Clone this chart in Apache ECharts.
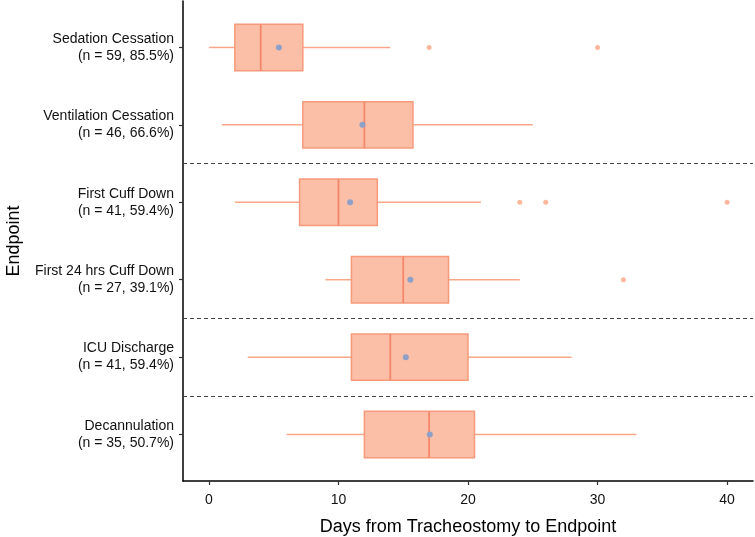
<!DOCTYPE html>
<html>
<head>
<meta charset="utf-8">
<script src="https://cdn.jsdelivr.net/npm/echarts@6/dist/echarts.min.js"></script>
<style>html,body{margin:0;padding:0;background:#fff}#c{width:755px;height:537px}</style>
</head>
<body>
<div id="c"></div>
<script>
// ---- data (top to bottom) ----
var categories = ['Sedation Cessation', 'Ventilation Cessation', 'First Cuff Down', 'First 24 hrs Cuff Down', 'ICU Discharge', 'Decannulation'];
var nLabels = ['(n = 59, 85.5%)', '(n = 46, 66.6%)', '(n = 41, 59.4%)', '(n = 27, 39.1%)', '(n = 41, 59.4%)', '(n = 35, 50.7%)'];
var whiskerLow = [0, 1, 2, 9, 3, 6];
var q1 = [2, 7.25, 7, 11, 11, 12];
var median = [4, 12, 10, 15, 14, 17];
var q3 = [7.25, 15.75, 13, 18.5, 20, 20.5];
var whiskerHigh = [14, 25, 21, 24, 28, 33];
var means = [5.4, 11.85, 10.9, 15.55, 15.2, 17.05];
var outlierCategory = [0, 0, 2, 2, 2, 3];
var outlierValue = [17, 30, 24, 26, 40, 32];
var groupBreakAfter = [1, 3, 4]; // dashed separators after these category indices
var xTicks = [0, 10, 20, 30, 40];

var FONT = 'Liberation Sans, Arial, sans-serif';
var catIndex = categories.map(function (c, i) { return i; });
var boxData = categories.map(function (c, i) {
  return [i, whiskerLow[i], q1[i], median[i], q3[i], whiskerHigh[i]];
});
var meanData = categories.map(function (c, i) { return [means[i], i]; });
var outlierData = outlierValue.map(function (v, i) { return [v, outlierCategory[i]]; });
var breakLines = groupBreakAfter.map(function (i) { return { yAxis: i + 0.5 }; });

var BOX_FILL = '#FBBFA7', BOX_STROKE = '#F79A7C', WHISKER = '#F9A68A', MEDIAN = '#F4876A';

function renderBox(params, api) {
  var y = api.value(0);
  var pLo = api.coord([api.value(1), y]);
  var pQ1 = api.coord([api.value(2), y]);
  var pMed = api.coord([api.value(3), y]);
  var pQ3 = api.coord([api.value(4), y]);
  var pHi = api.coord([api.value(5), y]);
  var h = api.size([0, 1])[1] * 0.6;
  var cy = pMed[1];
  return {
    type: 'group',
    children: [
      { type: 'line', shape: { x1: pLo[0], y1: cy, x2: pQ1[0], y2: cy }, style: { stroke: WHISKER, lineWidth: 1.5 } },
      { type: 'line', shape: { x1: pQ3[0], y1: cy, x2: pHi[0], y2: cy }, style: { stroke: WHISKER, lineWidth: 1.5 } },
      { type: 'rect', shape: { x: pQ1[0], y: cy - h / 2, width: pQ3[0] - pQ1[0], height: h }, style: { fill: BOX_FILL, stroke: BOX_STROKE, lineWidth: 1.5 } },
      { type: 'line', shape: { x1: pMed[0], y1: cy - h / 2, x2: pMed[0], y2: cy + h / 2 }, style: { stroke: MEDIAN, lineWidth: 1.8 } }
    ]
  };
}

var chart = echarts.init(document.getElementById('c'));
chart.setOption({
  animation: false,
  backgroundColor: '#ffffff',
  grid: { left: 183, right: 2, top: 1, bottom: 56, containLabel: false, outerBoundsMode: 'none' },
  xAxis: {
    type: 'value', min: -2, max: 42,
    name: 'Days from Tracheostomy to Endpoint', nameLocation: 'middle', nameGap: 37,
    nameTextStyle: { fontFamily: FONT, fontSize: 18, color: '#000' },
    axisLine: { show: true, onZero: false, lineStyle: { color: '#000', width: 1.5 } },
    axisTick: { show: true, length: 4, customValues: xTicks, lineStyle: { color: '#333', width: 1.2 } },
    axisLabel: { customValues: xTicks, margin: 12, fontFamily: FONT, fontSize: 14, color: '#111' },
    splitLine: { show: false }
  },
  yAxis: {
    type: 'value', min: -0.6, max: 5.6, inverse: true,
    name: 'Endpoint', nameLocation: 'middle', nameGap: 160, nameRotate: 90,
    nameTextStyle: { fontFamily: FONT, fontSize: 18, color: '#000' },
    axisLine: { show: true, onZero: false, lineStyle: { color: '#000', width: 1.5 } },
    axisTick: { show: true, length: 4, customValues: catIndex, lineStyle: { color: '#333', width: 1.2 } },
    axisLabel: {
      customValues: catIndex,
      margin: 9, fontFamily: FONT, fontSize: 14, color: '#111', lineHeight: 17, align: 'right',
      padding: [5, 0, 0, 0],
      formatter: function (v) { return categories[v] + '\n' + nLabels[v]; }
    },
    splitLine: { show: false }
  },
  series: [
    {
      type: 'scatter', data: [], silent: true,
      markLine: {
        silent: true, symbol: 'none', label: { show: false },
        lineStyle: { color: '#444', type: [4, 3], width: 1.2 },
        data: breakLines
      }
    },
    {
      type: 'custom', data: boxData, renderItem: renderBox,
      encode: { x: [1, 2, 3, 4, 5], y: 0 }
    },
    {
      type: 'scatter', data: outlierData,
      symbolSize: 5, itemStyle: { color: '#FBB89E', opacity: 1 }
    },
    {
      type: 'scatter', data: meanData,
      symbolSize: 6, itemStyle: { color: '#8FA0C8', opacity: 1 }, z: 5
    }
  ]
});
</script>
</body>
</html>
